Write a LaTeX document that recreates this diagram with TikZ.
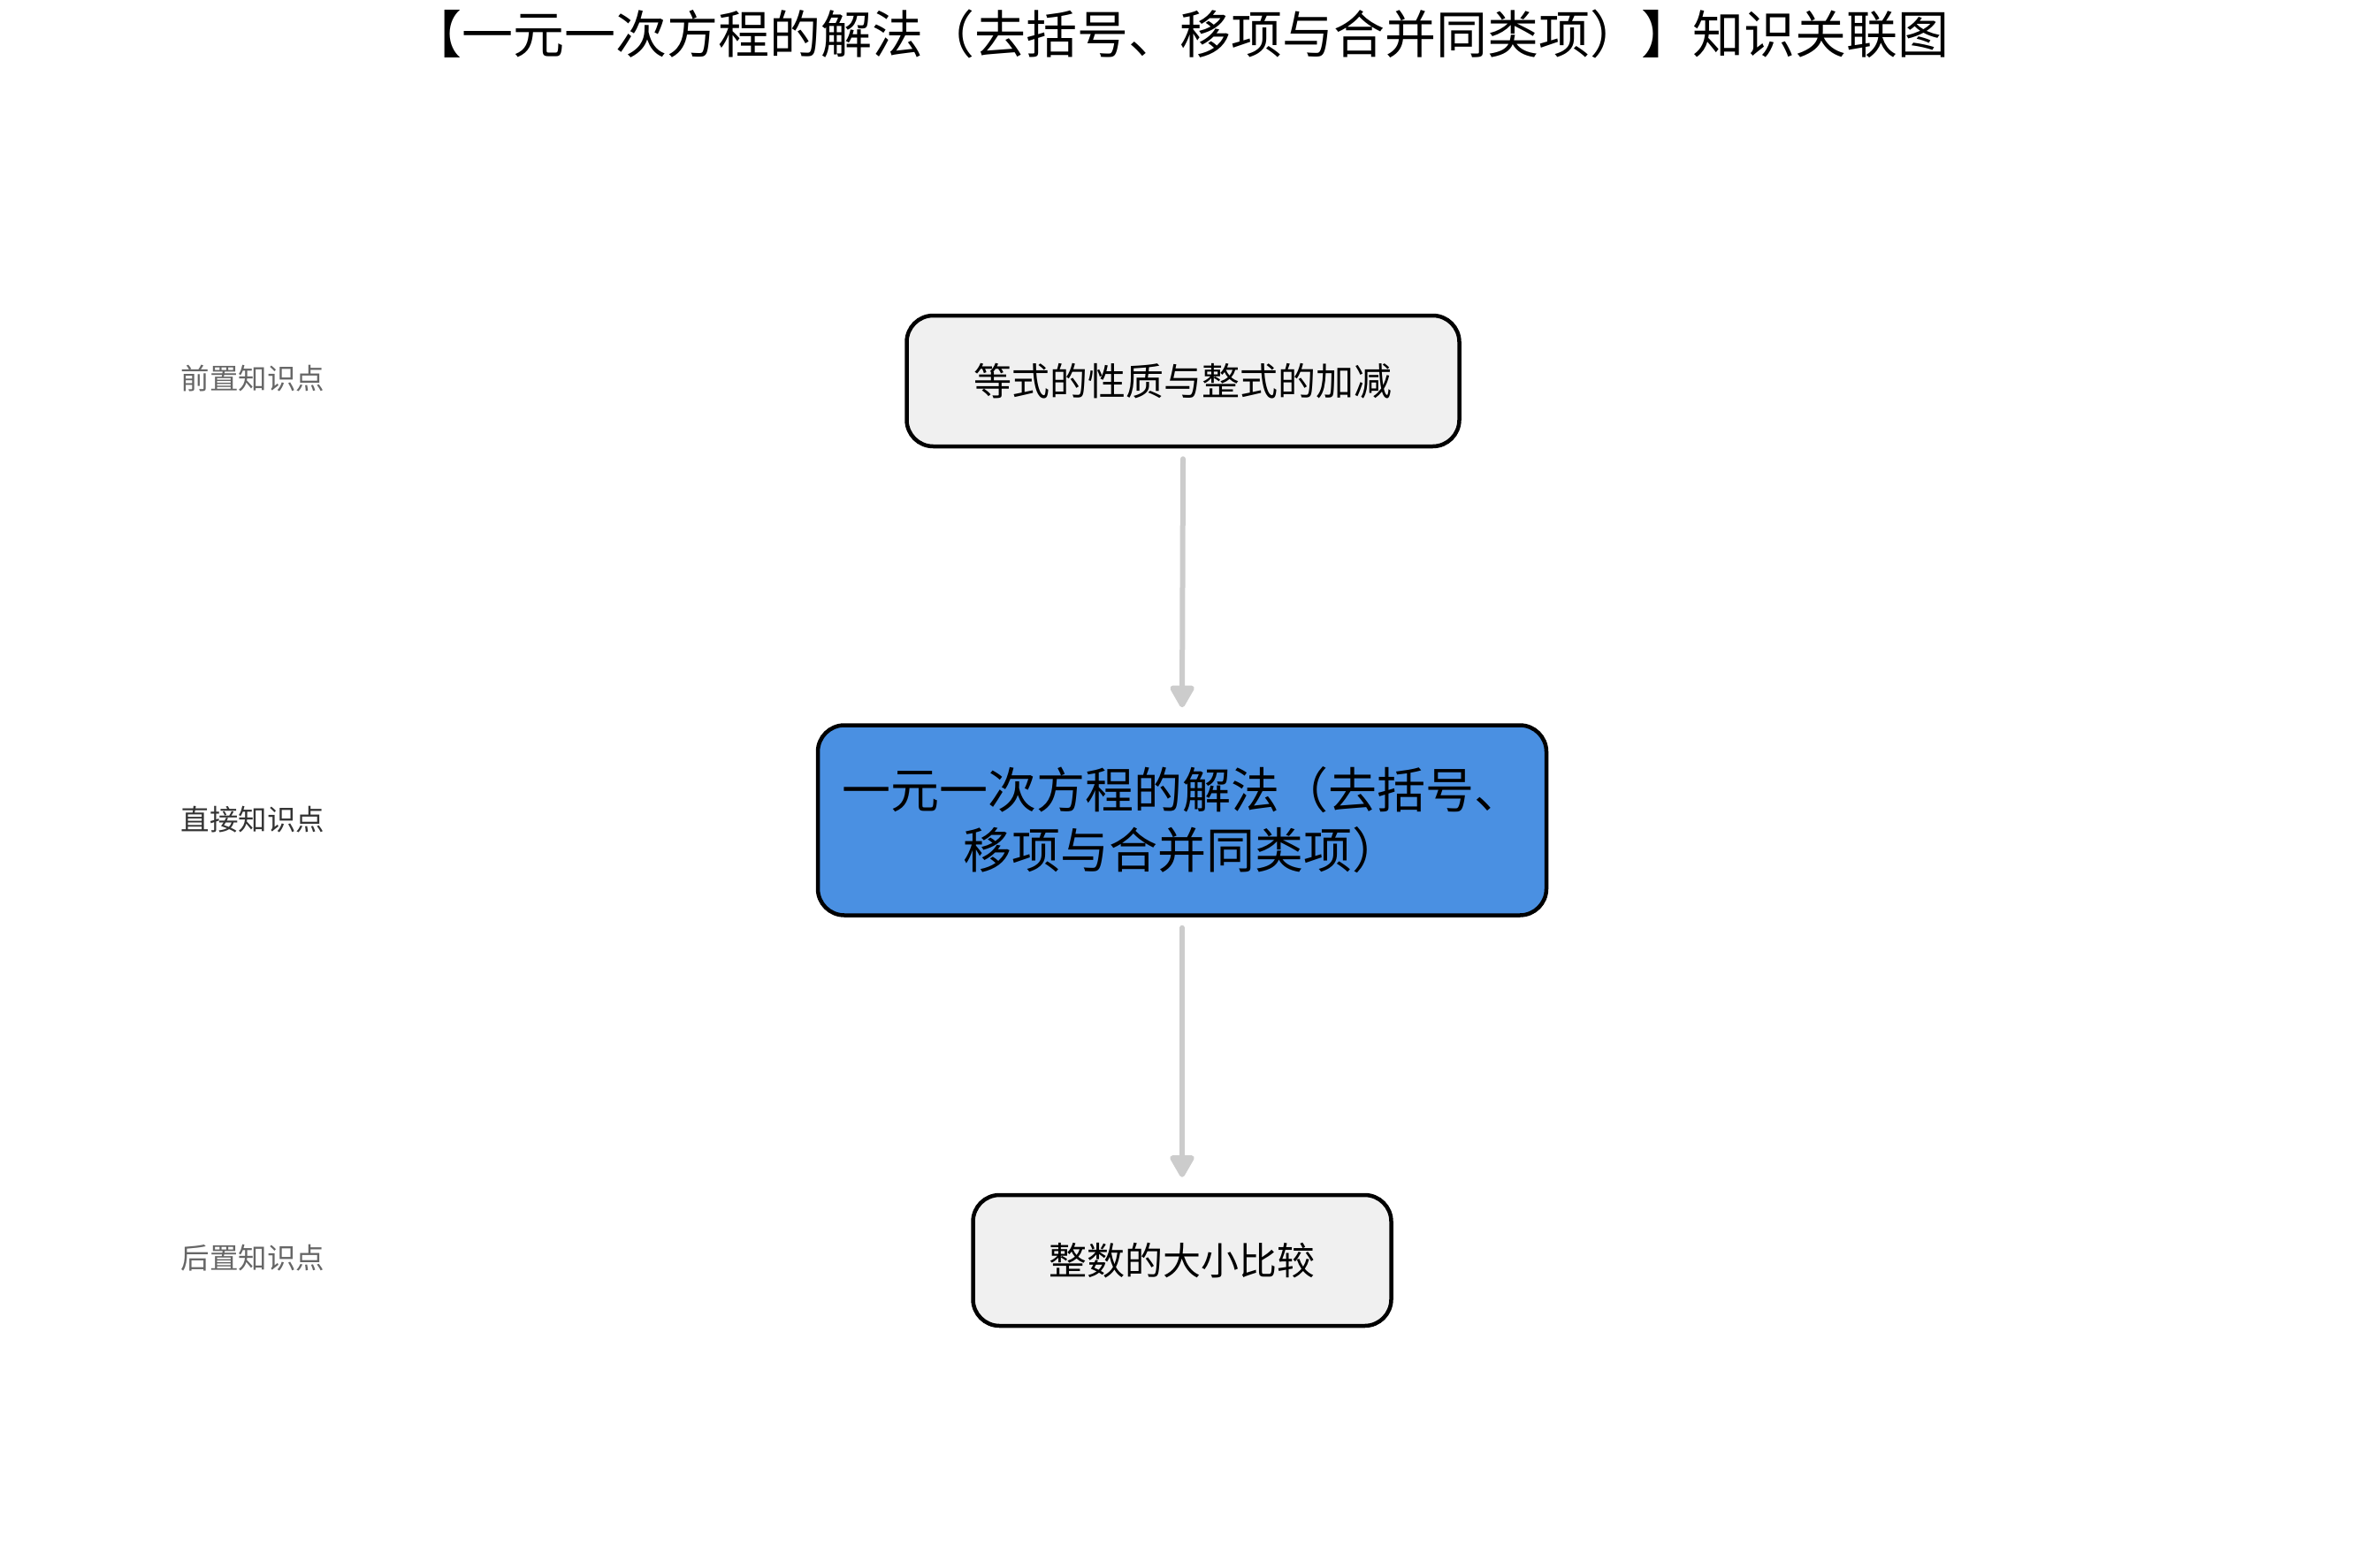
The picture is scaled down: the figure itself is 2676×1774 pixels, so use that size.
\documentclass[tikz,border=0pt]{standalone}
\usepackage{fontspec}
\setmainfont{Noto Sans CJK SC}
\usetikzlibrary{arrows.meta}
\definecolor{boxgray}{HTML}{F0F0F0}
\definecolor{boxblue}{HTML}{4A90E2}
\definecolor{arrowgray}{HTML}{CCCCCC}
\definecolor{sidegray}{HTML}{666666}
\definecolor{sidedark}{HTML}{333333}
\tikzset{
  kbox/.style={draw=black, line width=4.5pt, rounded corners=30pt, fill=boxgray, align=center, inner sep=0pt},
  kmain/.style={kbox, fill=boxblue},
  ktext/.style={font=\fontsize{43}{51}\selectfont},
  kmaintext/.style={font=\fontsize{55}{68}\selectfont},
  side/.style={font=\fontsize{32.5}{38}\selectfont, text=sidegray},
  flow/.style={draw=arrowgray, line width=6pt, line cap=round, -{Triangle[length=28pt, width=30pt, round]}},
}
\begin{document}
\begin{tikzpicture}[x=1pt, y=-1pt]
\useasboundingbox (0,0) rectangle (2676,1774);
\node (title) at (1334,38) {\fontsize{58}{66}\selectfont 【一元一次方程的解法（去括号、移项与合并同类项）】知识关联图};
\node[kbox, ktext, minimum width=625pt, minimum height=148pt] (pre) at (1338,431) {等式的性质与整式的加减};
\node[kmain, kmaintext, minimum width=824pt, minimum height=215pt] (main) at (1337,928) {一元一次方程的解法（去括号、\\移项与合并同类项）};
\node[kbox, ktext, minimum width=473pt, minimum height=148pt] (post) at (1337,1426) {整数的大小比较};
\node[side] (lpre) at (286,428) {前置知识点};
\node[side, text=sidedark] (lmain) at (286,927) {直接知识点};
\node[side] (lpost) at (286,1423) {后置知识点};
\draw[flow] ([yshift=-12pt]pre.south) -- ([yshift=18pt]main.north);
\draw[flow] ([yshift=-12pt]main.south) -- ([yshift=18pt]post.north);
\end{tikzpicture}
\end{document}
